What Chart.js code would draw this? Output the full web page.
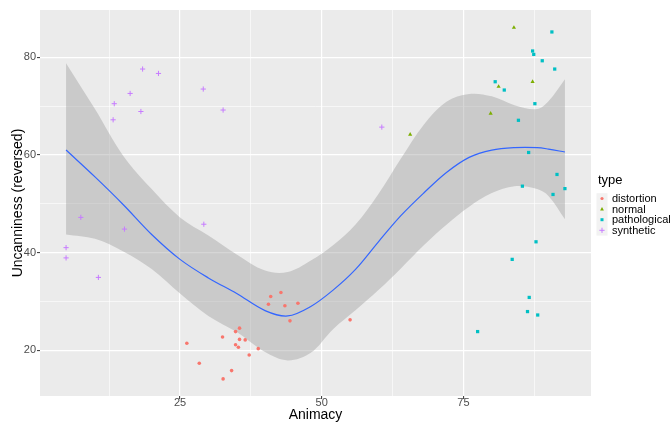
<!DOCTYPE html>
<html>
<head>
<meta charset="utf-8">
<script src="https://cdn.jsdelivr.net/npm/chart.js@4/dist/chart.umd.min.js"></script>
<style>
  html, body { margin: 0; padding: 0; background: #ffffff; }
  #wrap { width: 671px; height: 424px; position: relative; }
</style>
</head>
<body>
<div id="wrap"><canvas id="c" width="671" height="424"></canvas></div>
<script>
// ---- data ----
const seriesNames = ['distortion', 'normal', 'pathological', 'synthetic'];
const seriesColors = ['#F8766D', '#7CAE00', '#00BFC4', '#C77CFF'];

const distortionX = [26.2, 28.4, 32.5, 32.6, 34.1, 34.8, 34.8, 35.3, 35.5, 35.5, 36.5, 37.2, 38.8, 40.6, 41.0, 42.8, 43.5, 44.4, 45.8, 55.0];
const distortionY = [21.4, 17.3, 22.7, 14.1, 15.8, 23.8, 21.1, 20.6, 22.2, 24.5, 22.1, 19.0, 20.3, 29.4, 31.0, 31.8, 29.1, 26.0, 29.6, 26.2];

const normalX = [65.6, 79.8, 81.2, 83.9, 87.2];
const normalY = [64.2, 68.5, 74.0, 86.1, 75.0];

const pathologicalX = [90.6, 87.2, 87.4, 88.9, 91.1, 80.6, 82.2, 87.6, 84.7, 86.5, 91.5, 85.4, 92.9, 90.8, 87.8, 83.6, 86.6, 86.3, 88.1, 77.5];
const pathologicalY = [85.2, 81.3, 80.6, 79.3, 77.6, 75.0, 73.3, 70.5, 67.1, 60.5, 56.0, 53.6, 53.1, 51.9, 42.2, 38.6, 30.8, 27.9, 27.2, 23.8];

const syntheticX = [18.4, 21.2, 16.2, 13.4, 13.2, 18.1, 29.1, 32.6, 7.5, 15.2, 29.2, 4.9, 4.9, 10.6, 60.6];
const syntheticY = [77.6, 76.7, 72.6, 70.5, 67.2, 68.9, 73.5, 69.2, 47.2, 44.8, 45.8, 41.0, 38.9, 34.9, 65.7];

// loess smooth and its confidence band
const smoothX     = [4.9, 10, 15, 20, 25, 30, 35, 40, 44, 48, 52, 56, 60, 64, 68, 72, 76, 80, 84, 88, 90, 92.9];
const smoothY     = [61.0, 55.5, 49.8, 43.7, 38.6, 34.8, 31.6, 28.1, 27.0, 28.9, 32.3, 36.6, 42.2, 47.6, 52.2, 56.4, 59.5, 61.0, 61.5, 61.5, 61.2, 60.6];
const smoothUpper = [78.8, 69.4, 59.8, 53.0, 47.2, 43.5, 39.6, 36.3, 36.0, 38.3, 41.5, 45.8, 52.0, 59.3, 66.2, 70.9, 72.5, 72.0, 70.2, 69.4, 71.0, 75.5];
const smoothLower = [43.7, 42.8, 40.2, 36.6, 31.6, 27.0, 23.7, 19.6, 17.9, 19.4, 24.3, 28.2, 32.3, 36.8, 41.5, 45.7, 49.4, 52.2, 53.6, 53.0, 51.6, 46.8];

const xMajorTicks = [25, 50, 75];
const xMinorTicks = [12.5, 37.5, 62.5, 87.5];
const yMajorTicks = [20, 40, 60, 80];
const yMinorTicks = [30, 50, 70];

const xTitle = 'Animacy';
const yTitle = 'Uncanniness (reversed)';
const legendTitle = 'type';

// ---- build chart ----
const zip = (xs, ys) => xs.map((x, i) => ({ x: x, y: ys[i] }));
const FONT = "'Liberation Sans', Arial, sans-serif";

const pointStyles = ['circle', 'triangle', 'rect', 'cross'];
const pointRadii = [1.8, 2.4, 2.3, 2.6];
const seriesData = [
  zip(distortionX, distortionY),
  zip(normalX, normalY),
  zip(pathologicalX, pathologicalY),
  zip(syntheticX, syntheticY)
];

const datasets = [];
datasets.push({
  type: 'line', label: 'upper', data: zip(smoothX, smoothUpper),
  borderWidth: 0, pointRadius: 0, tension: 0.35,
  backgroundColor: 'rgba(153,153,153,0.4)', fill: '+1', order: 10
});
datasets.push({
  type: 'line', label: 'lower', data: zip(smoothX, smoothLower),
  borderWidth: 0, pointRadius: 0, tension: 0.35,
  fill: false, order: 11
});
datasets.push({
  type: 'line', label: 'fit', data: zip(smoothX, smoothY),
  borderColor: '#3366FF', borderWidth: 1.2, pointRadius: 0, tension: 0.35,
  fill: false, order: 5
});
seriesNames.forEach((name, i) => {
  datasets.push({
    type: 'scatter', label: name, data: seriesData[i],
    pointStyle: pointStyles[i], pointRadius: pointRadii[i],
    backgroundColor: seriesColors[i], borderColor: seriesColors[i],
    borderWidth: i === 3 ? 1 : 0, order: 1
  });
});

const isIn = (arr, v) => arr.some(a => Math.abs(a - v) < 1e-6);

const panelBg = {
  id: 'panelBg',
  beforeDraw(chart) {
    const { ctx, chartArea: a } = chart;
    ctx.save();
    ctx.fillStyle = '#EBEBEB';
    ctx.fillRect(a.left, a.top, a.right - a.left, a.bottom - a.top);
    ctx.restore();
  }
};

function drawKey(ctx, style, x, y, color) {
  ctx.save();
  ctx.fillStyle = color; ctx.strokeStyle = color; ctx.lineWidth = 1;
  ctx.beginPath();
  if (style === 'circle') { ctx.arc(x, y, 1.6, 0, Math.PI * 2); ctx.fill(); }
  else if (style === 'triangle') { ctx.moveTo(x, y - 2); ctx.lineTo(x + 1.9, y + 1.3); ctx.lineTo(x - 1.9, y + 1.3); ctx.closePath(); ctx.fill(); }
  else if (style === 'rect') { ctx.rect(x - 1.5, y - 1.5, 3, 3); ctx.fill(); }
  else { ctx.moveTo(x - 2.6, y); ctx.lineTo(x + 2.6, y); ctx.moveTo(x, y - 2.6); ctx.lineTo(x, y + 2.6); ctx.stroke(); }
  ctx.restore();
}

const legendPlugin = {
  id: 'ggLegend',
  afterDraw(chart) {
    const ctx = chart.ctx;
    ctx.save();
    ctx.fillStyle = '#000000';
    ctx.font = '13px ' + FONT;
    ctx.textBaseline = 'alphabetic';
    ctx.textAlign = 'left';
    ctx.fillText(legendTitle, 598, 184);
    const step = 10.6, y0 = 198.5;
    ctx.fillStyle = '#F2F2F2';
    ctx.fillRect(596.5, y0 - step / 2, 11, step * seriesNames.length);
    ctx.font = '11px ' + FONT;
    ctx.textBaseline = 'middle';
    seriesNames.forEach((n, i) => {
      const y = y0 + i * step;
      drawKey(ctx, pointStyles[i], 602, y, seriesColors[i]);
      ctx.fillStyle = '#000000';
      ctx.fillText(n, 612, y + 0.5);
    });
    ctx.restore();
  }
};

new Chart(document.getElementById('c'), {
  data: { datasets: datasets },
  plugins: [panelBg, legendPlugin],
  options: {
    responsive: false,
    animation: false,
    devicePixelRatio: 1,
    layout: { padding: { left: 0, right: 80, top: 10, bottom: 0 } },
    plugins: { legend: { display: false }, tooltip: { enabled: false } },
    scales: {
      x: {
        type: 'linear', position: 'bottom', min: 0.3, max: 97.5,
        afterBuildTicks: s => { s.ticks = xMinorTicks.concat(xMajorTicks).sort((a, b) => a - b).map(v => ({ value: v })); },
        afterFit: s => { s.height = 28; },
        border: { display: false },
        grid: {
          color: '#FFFFFF',
          lineWidth: c => (c.tick && isIn(xMajorTicks, c.tick.value)) ? 1.2 : 0.6,
          drawTicks: true, tickLength: 3,
          tickColor: c => (c.tick && isIn(xMajorTicks, c.tick.value)) ? '#333333' : 'rgba(0,0,0,0)',
          tickWidth: 1
        },
        ticks: {
          autoSkip: false, maxRotation: 0, padding: 0,
          color: '#4D4D4D', font: { family: FONT, size: 11, lineHeight: 0.8 },
          callback: v => isIn(xMajorTicks, v) ? String(v) : ''
        },
        title: { display: true, text: xTitle, color: '#000000', font: { family: FONT, size: 14 }, padding: { top: 0, bottom: 0 } }
      },
      y: {
        type: 'linear', position: 'left', min: 10.6, max: 89.7,
        afterBuildTicks: s => { s.ticks = yMinorTicks.concat(yMajorTicks).sort((a, b) => a - b).map(v => ({ value: v })); },
        afterFit: s => { s.width = 40; },
        border: { display: false },
        grid: {
          color: '#FFFFFF',
          lineWidth: c => (c.tick && isIn(yMajorTicks, c.tick.value)) ? 1.2 : 0.6,
          drawTicks: true, tickLength: 3,
          tickColor: c => (c.tick && isIn(yMajorTicks, c.tick.value)) ? '#333333' : 'rgba(0,0,0,0)',
          tickWidth: 1
        },
        ticks: {
          autoSkip: false, padding: 1,
          color: '#4D4D4D', font: { family: FONT, size: 11 },
          callback: v => isIn(yMajorTicks, v) ? String(v) : ''
        },
        title: { display: true, text: yTitle, color: '#000000', font: { family: FONT, size: 14 }, padding: { top: 9.6, bottom: 0 } }
      }
    }
  }
});
</script>
</body>
</html>
